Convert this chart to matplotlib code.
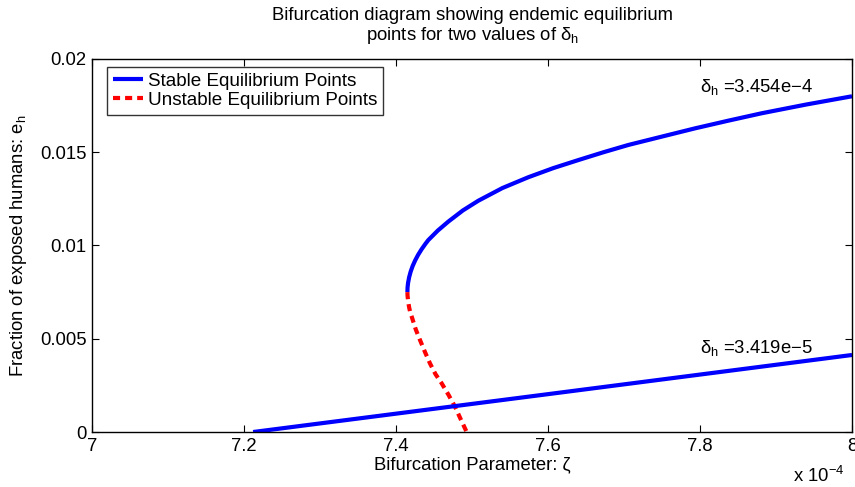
import numpy as np
import matplotlib
matplotlib.use("Agg")
import matplotlib.pyplot as plt

plt.rcParams['font.family'] = ['Liberation Sans', 'DejaVu Sans']
plt.rcParams['mathtext.fontset'] = 'custom'
plt.rcParams['mathtext.rm'] = 'Liberation Sans'
plt.rcParams['mathtext.it'] = 'Liberation Sans'
plt.rcParams['mathtext.bf'] = 'Liberation Sans:bold'

# zeta in units of 1e-4 (axis shows "x 10^-4"), e_h = fraction of exposed humans
# delta_h = 3.454e-4 : stable upper branch
hi_stable_zeta = [7.4150, 7.4152, 7.4159, 7.4173, 7.4193, 7.4219, 7.4252, 7.4291,
                  7.4337, 7.4389, 7.4425, 7.4550, 7.4688, 7.4880, 7.5083, 7.5400,
                  7.5741, 7.6070, 7.6399, 7.6730, 7.7057, 7.7500, 7.7934, 7.8370,
                  7.8812, 7.9400, 8.0000]
hi_stable_e = [0.00750, 0.00775, 0.00800, 0.00830, 0.00860, 0.00890, 0.00920, 0.00950,
               0.00980, 0.01010, 0.01029, 0.01080, 0.01128, 0.01188, 0.01240, 0.01308,
               0.01366, 0.01415, 0.01458, 0.01500, 0.01539, 0.01584, 0.01628, 0.01669,
               0.01709, 0.01756, 0.01800]
# delta_h = 3.454e-4 : unstable lower branch
hi_unstable_zeta = [7.4150, 7.4152, 7.4160, 7.4172, 7.4188, 7.4207, 7.4260, 7.4316,
                    7.4380, 7.4447, 7.4520, 7.4601, 7.4690, 7.4776, 7.4850, 7.4930]
hi_unstable_e = [0.00750, 0.00730, 0.00700, 0.00670, 0.00640, 0.00618, 0.00550, 0.00493,
                 0.00430, 0.00368, 0.00310, 0.00261, 0.00200, 0.00136, 0.00070, 0.0]
# delta_h = 3.419e-5 : stable branch
lo_stable_zeta = [7.212, 7.600, 8.000]
lo_stable_e = [0.0, 0.00203, 0.00413]

xticks = [7, 7.2, 7.4, 7.6, 7.8, 8]
xticklabels = ['7', '7.2', '7.4', '7.6', '7.8', '8']
yticks = [0, 0.005, 0.01, 0.015, 0.02]
yticklabels = ['0', '0.005', '0.01', '0.015', '0.02']

fs = 13.3

fig = plt.figure(figsize=(8.55, 4.87), dpi=100)
ax = fig.add_axes([0.1076, 0.1129, 0.8889, 0.766])

blue = '#0000ff'
red = '#ff0000'
ax.plot(hi_stable_zeta, hi_stable_e, color=blue, lw=3, solid_capstyle='butt',
        label='Stable Equilibrium Points')
ax.plot(hi_unstable_zeta, hi_unstable_e, color=red, lw=3, ls=(0, (1.7, 1.2)),
        label='Unstable Equilibrium Points')
ax.plot(lo_stable_zeta, lo_stable_e, color=blue, lw=3, solid_capstyle='butt')

ax.text(7.8, 0.0185, r'$\delta_{h}$ =3.454e−4', fontsize=fs, va='center', ha='left')
ax.text(7.8, 0.0045, r'$\delta_{h}$ =3.419e−5', fontsize=fs, va='center', ha='left')

ax.set_xlim(7, 8)
ax.set_ylim(0, 0.02)
ax.set_xticks(xticks)
ax.set_xticklabels(xticklabels)
ax.set_yticks(yticks)
ax.set_yticklabels(yticklabels)
ax.tick_params(direction='in', length=5, width=0.8, labelsize=fs, top=True, right=True, pad=4)
for s in ax.spines.values():
    s.set_linewidth(1.0)

ax.set_xlabel('Bifurcation Parameter: ζ', fontsize=fs, labelpad=1)
ax.set_ylabel(r'Fraction of exposed humans: $e_{h}$', fontsize=fs, labelpad=8)
ax.set_title('Bifurcation diagram showing endemic equilibrium\n'
             r'points for two values of $\delta_{h}$', fontsize=fs, pad=14, linespacing=1.05)
fig.text(0.988, 0.002, r'x 10$^{-4}$', ha='right', va='bottom', fontsize=fs)

leg = ax.legend(loc='upper left', bbox_to_anchor=(0.0197, 0.9786), borderaxespad=0,
                fontsize=13.6, frameon=True, fancybox=False, edgecolor='black',
                borderpad=0.3, labelspacing=0.1, handlelength=1.6, handletextpad=0.25)
leg.get_frame().set_linewidth(1.0)

fig.savefig('out.png', dpi=100)
